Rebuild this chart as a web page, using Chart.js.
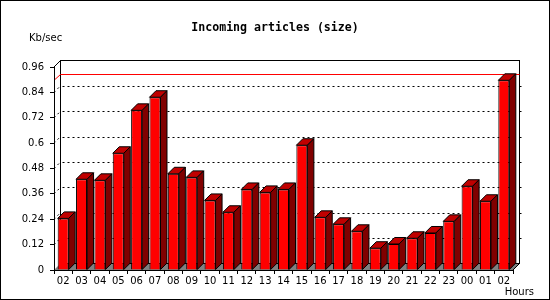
<!DOCTYPE html>
<html><head><meta charset="utf-8">
<script src="https://cdn.jsdelivr.net/npm/chart.js@4"></script>
<style>html,body{margin:0;padding:0;background:#fff}canvas{display:block}</style>
</head><body>
<canvas id="c" width="550" height="300"></canvas>
<script>
const hours = ['02','03','04','05','06','07','08','09','10','11','12','13','14','15','16','17','18','19','20','21','22','23','00','01','02'];
const sizeKbps = [0.244,0.429,0.424,0.552,0.755,0.817,0.455,0.438,0.329,0.273,0.381,0.367,0.381,0.590,0.249,0.216,0.183,0.103,0.123,0.150,0.175,0.230,0.396,0.325,0.897];
const yTickValues = [0,0.12,0.24,0.36,0.48,0.6,0.72,0.84,0.96];
const yTickLabels = ['0','0.12','0.24','0.36','0.48','0.6','0.72','0.84','0.96'];
const titleText = 'Incoming articles (size)';
const yUnitText = 'Kb/sec';
const xUnitText = 'Hours';

const D = 6.5;
function line(ctx,x1,y1,x2,y2){ctx.beginPath();ctx.moveTo(x1,y1);ctx.lineTo(x2,y2);ctx.stroke();}
function poly(ctx,pts,fill){ctx.beginPath();ctx.moveTo(pts[0][0],pts[0][1]);for(let i=1;i<pts.length;i++)ctx.lineTo(pts[i][0],pts[i][1]);ctx.closePath();ctx.fillStyle=fill;ctx.fill();ctx.stroke();}

const threeD = {
  id:'threeD',
  beforeDraw(chart){
    const {ctx, chartArea:a, scales:{y}} = chart;
    const L=a.left, R=a.right, T=a.top, B=a.bottom;
    ctx.save();
    ctx.fillStyle='#fff'; ctx.fillRect(0,0,chart.width,chart.height);
    ctx.strokeStyle='#000'; ctx.lineWidth=1;
    ctx.strokeRect(0.5,0.5,chart.width-1,chart.height-1);
    // floor
    ctx.fillStyle='#808080';
    ctx.beginPath(); ctx.moveTo(L,B); ctx.lineTo(R,B); ctx.lineTo(R+D,B-D); ctx.lineTo(L+D,B-D); ctx.closePath(); ctx.fill();
    // back wall
    ctx.strokeRect(L+D, T-D, R-L, B-T);
    line(ctx,L,T,L+D,T-D);
    line(ctx,R,B,R+D,B-D);
    // grid
    yTickValues.forEach(v=>{
      if (v===yTickValues[0] || v===yTickValues[yTickValues.length-1]) return;
      const py = y.getPixelForValue(v);
      const pb = Math.round(py-D)+0.5;
      ctx.setLineDash([2,3]);
      line(ctx,L+D+2,pb,R+D-2,pb);
      line(ctx,L,py,L+D,py-D);
      ctx.setLineDash([]);
      line(ctx,R+D,pb,R+D+2,pb);
    });
    // max line
    const mx = Math.max(...sizeKbps);
    const pm = y.getPixelForValue(mx);
    const pmb = Math.round(pm-D)+0.5;
    ctx.strokeStyle='#ff0000';
    line(ctx,L,pm,L+D,pmb);
    line(ctx,L+D,pmb,R+D,pmb);
    ctx.restore();
  },
  afterDatasetsDraw(chart){
    const {ctx} = chart;
    const meta = chart.getDatasetMeta(0);
    ctx.save();
    ctx.strokeStyle='#000'; ctx.lineWidth=1;
    meta.data.forEach(el=>{
      const {x:cx, y:top, base, width} = el.getProps(['x','y','base','width'], true);
      const l = cx-width/2, r = cx+width/2;
      poly(ctx,[[l,top],[l+D,top-D],[r+D,top-D],[r,top]],'#c00000');
      poly(ctx,[[r,top],[r+D,top-D],[r+D,base-D],[r,base]],'#800000');
    });
    ctx.restore();
  },
  afterDraw(chart){
    const {ctx} = chart;
    ctx.save();
    ctx.fillStyle='#000';
    ctx.textBaseline='middle';
    ctx.font='bold 11.6px "DejaVu Sans Mono"';
    ctx.textAlign='center';
    ctx.fillText(titleText, 275, 27.5);
    ctx.font='10px "DejaVu Sans"';
    ctx.textAlign='left';
    ctx.fillText(yUnitText, 29, 38.5);
    ctx.textAlign='right';
    ctx.fillText(xUnitText, 534, 292);
    ctx.restore();
  }
};

new Chart(document.getElementById('c'), {
  type:'bar',
  data:{labels:hours, datasets:[{data:sizeKbps, backgroundColor:'#ff0000', borderColor:'#000', borderWidth:1, barPercentage:0.6, categoryPercentage:1}]},
  options:{
    responsive:false, animation:false, devicePixelRatio:1,
    layout:{padding:{top:67,right:37,bottom:0,left:0}},
    plugins:{legend:{display:false}, tooltip:{enabled:false}, title:{display:false}},
    scales:{
      x:{type:'category', offset:true,
         grid:{offset:true, drawOnChartArea:false, tickLength:4, color:'#000'},
         border:{color:'#000'},
         ticks:{color:'#000', font:{family:'DejaVu Sans', size:10}, padding:1, maxRotation:0, autoSkip:false},
         afterFit(s){s.height=30;}},
      y:{min:0, max:0.96,
         afterBuildTicks(s){s.ticks = yTickValues.map(v=>({value:v}));},
         ticks:{callback:(v,i)=>yTickLabels[i], color:'#000', font:{family:'DejaVu Sans', size:10}, padding:6},
         grid:{drawOnChartArea:false, tickLength:4, color:'#000'},
         border:{color:'#000'},
         afterFit(s){s.width=54;}}
    }
  },
  plugins:[threeD]
});
</script>
</body></html>
